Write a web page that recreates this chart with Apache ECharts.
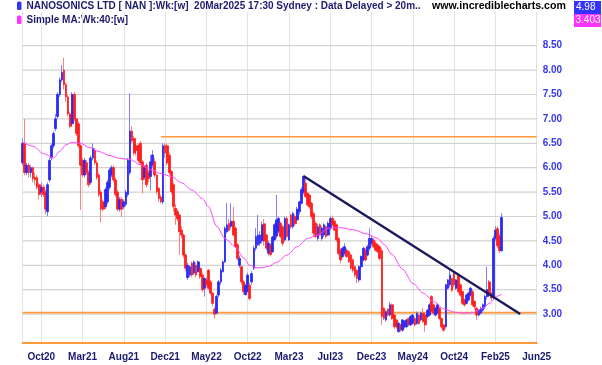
<!DOCTYPE html>
<html><head><meta charset="utf-8">
<script src="https://cdn.jsdelivr.net/npm/echarts@6/dist/echarts.min.js"></script>
<style>html,body{margin:0;padding:0;background:#fff}#c{width:602px;height:365px}</style>
</head><body><div id="c"></div>
<script>
// ---------- data ----------
const tickLabels = ['Oct20','Mar21','Aug21','Dec21','May22','Oct22','Mar23','Jul23','Dec23','May24','Oct24','Feb25','Jun25'];
const firstTickIndex = 9;
const tickStep = 20;
const weekCount = 250;
const weeks = Array.from({length: weekCount}, (_, i) => 'W' + i);

// weekly bars: [open, close, low, high]
const ohlc = [
[6.1,6.5,6.05,6.6],[6.5,5.9,5.85,7.0],[5.9,6.05,5.85,6.1],[6.05,5.9,5.8,6.1],[5.9,6.0,5.8,6.05],
[6.0,5.78,5.7,6.02],[5.8,5.75,5.65,5.9],[5.8,5.6,5.55,5.85],[5.65,5.45,5.35,5.7],[5.5,5.6,5.4,5.7],
[5.6,5.45,5.4,5.65],[5.5,5.15,5.05,5.55],[5.1,5.65,5.0,5.7],[5.75,6.15,5.7,6.2],[6.2,6.45,6.15,6.5],
[6.45,6.7,6.4,6.75],[6.8,7.0,6.75,7.1],[7.05,7.5,7.0,7.55],[7.5,7.8,7.45,7.85],[7.8,7.95,7.75,8.1],
[8.0,7.7,7.6,8.25],[7.7,7.45,7.35,7.75],[7.45,7.1,7.05,7.5],[7.1,6.85,6.8,7.15],[6.9,7.5,6.85,7.55],
[7.5,7.0,6.95,7.55],[7.0,6.7,6.65,7.0],[6.9,6.45,6.4,6.95],[6.45,6.05,5.13,6.5],[6.15,5.85,5.8,6.2],
[5.85,6.15,5.8,6.2],[6.1,5.9,5.85,6.15],[5.9,5.65,5.6,5.95],[5.7,6.2,5.65,6.25],[6.2,6.4,6.15,6.5],
[6.35,6.1,6.05,6.4],[6.1,5.8,5.75,6.15],[5.85,5.45,5.4,5.9],[5.5,5.15,4.88,5.55],[5.3,5.15,5.1,5.35],
[5.2,5.55,5.15,5.6],[5.3,5.7,5.25,5.75],[5.6,5.95,5.55,6.0],[5.85,6.0,5.8,6.05],[6.0,5.75,5.7,6.05],
[5.75,5.45,5.4,5.8],[5.5,5.15,5.1,5.55],[5.15,5.35,5.1,5.4],[5.35,5.15,4.99,5.4],[5.2,5.3,5.15,5.35],
[5.25,5.5,5.2,5.55],[5.45,6.15,5.4,6.2],[5.9,6.75,5.85,7.52],[6.75,6.55,6.5,6.85],[6.6,6.3,6.25,6.65],
[6.45,6.35,6.25,6.5],[6.45,6.15,6.1,6.5],[6.5,6.1,6.05,6.55],[6.12,5.75,5.47,6.15],[5.8,6.0,5.75,6.05],
[6.05,5.65,5.6,6.1],[5.9,5.78,5.7,5.95],[5.82,6.12,5.54,6.26],[6.06,6.26,6.0,6.36],[6.12,5.85,5.8,6.2],
[5.85,5.51,5.45,5.88],[5.58,5.37,5.3,5.6],[5.4,5.3,5.27,5.45],[5.3,6.45,5.25,6.5],[6.45,6.3,6.2,6.5],
[6.45,6.1,6.05,6.5],[6.25,5.9,5.85,6.3],[5.92,5.51,5.45,5.95],[5.65,5.2,5.1,5.7],[5.17,5.03,4.83,5.25],
[5.1,4.95,4.9,5.15],[5.03,4.69,4.21,5.05],[4.72,4.62,4.55,4.8],[4.62,4.21,4.15,4.65],[4.21,3.94,3.88,4.25],
[3.75,4.0,3.7,4.05],[3.8,3.97,3.75,4.0],[4.04,3.8,3.75,4.08],[3.84,4.07,3.8,4.1],[4.0,3.8,3.75,4.05],
[3.87,4.07,3.85,4.1],[3.94,3.77,3.72,4.0],[3.8,3.5,3.45,3.85],[3.53,3.73,3.36,3.75],[3.7,3.6,3.55,3.75],
[3.9,3.53,3.5,3.92],[3.66,3.43,3.4,3.7],[3.43,3.22,3.15,3.45],[3.1,3.0,2.9,3.15],[3.02,3.36,3.0,3.4],
[3.39,3.66,3.35,3.7],[3.66,3.9,3.6,3.95],[3.87,4.07,3.85,4.1],[4.07,4.76,4.05,4.8],[4.69,4.83,4.65,5.27],
[4.86,4.72,4.69,4.95],[4.8,4.9,4.75,5.27],[4.9,4.62,4.6,5.2],[4.76,4.38,4.35,4.8],[4.42,4.14,4.1,4.45],
[4.0,4.14,3.95,4.2],[3.97,3.66,3.6,4.0],[3.66,3.46,3.4,3.7],[3.4,3.59,3.38,3.62],[3.46,3.8,3.45,3.85],
[3.59,3.32,3.28,3.65],[3.66,3.83,3.6,3.88],[3.94,4.35,3.9,4.4],[4.35,4.59,4.3,4.76],[4.42,4.62,4.4,5.03],
[4.45,4.62,4.4,4.7],[4.5,4.83,4.45,4.9],[4.85,4.5,4.4,4.95],[4.62,4.35,4.3,4.65],[4.25,4.45,4.2,4.5],
[4.42,4.22,4.18,4.45],[4.28,4.58,4.25,4.6],[4.52,4.83,4.5,4.86],[4.6,4.93,4.55,5.44],[4.7,4.96,4.65,5.0],
[4.86,4.59,4.55,4.9],[4.79,4.45,4.4,4.82],[4.52,4.96,4.48,5.0],[4.96,4.59,4.55,5.0],[4.52,4.83,4.5,4.86],
[5.03,4.79,4.75,5.06],[4.79,5.06,4.75,5.1],[5.0,4.85,4.8,5.05],[4.93,5.15,4.9,5.2],[5.1,5.3,5.05,5.32],
[5.27,5.55,5.25,5.6],[5.5,5.82,5.45,5.84],[5.68,5.41,5.38,5.8],[5.48,5.24,5.2,5.5],[5.44,5.2,5.15,5.46],
[5.27,5.0,4.95,5.3],[5.06,4.66,4.6,5.1],[4.86,4.59,4.55,4.9],[4.55,4.79,4.5,4.85],[4.83,4.62,4.6,4.86],
[4.55,4.76,4.5,4.8],[4.62,4.83,4.58,4.86],[4.79,4.59,4.55,4.82],[4.62,4.86,4.6,4.9],[4.76,4.96,4.72,5.0],
[4.96,4.83,4.8,5.02],[4.9,4.72,4.7,4.93],[4.83,4.52,4.48,4.86],[4.55,4.24,4.2,4.58],[4.31,4.11,4.04,4.35],
[4.18,4.35,4.15,4.38],[4.25,4.38,4.2,4.45],[4.31,4.18,4.15,4.35],[4.28,4.07,4.05,4.3],[4.21,3.94,3.9,4.25],
[4.11,3.9,3.85,4.15],[3.97,3.8,3.75,4.0],[3.9,3.73,3.63,3.92],[3.7,3.97,3.65,4.0],[3.97,4.18,3.95,4.2],
[4.11,4.35,4.08,4.38],[4.31,4.11,4.08,4.35],[4.21,4.38,4.18,4.42],[4.35,4.55,4.3,4.76],[4.45,4.55,4.4,4.6],
[4.52,4.38,4.35,4.55],[4.45,4.31,4.28,4.5],[4.42,4.28,4.25,4.45],[4.38,4.14,4.1,4.4],[4.3,2.95,2.78,4.35],
[3.12,2.91,2.88,3.15],[2.88,3.05,2.85,3.08],[3.1,2.98,2.95,3.12],[2.98,3.19,2.95,3.26],[3.19,2.91,2.88,3.22],
[2.98,2.74,2.7,3.0],[2.88,2.74,2.7,2.9],[2.64,2.81,2.62,2.85],[2.78,2.68,2.64,2.8],[2.67,2.88,2.64,2.9],
[2.74,2.85,2.7,2.88],[2.74,2.88,2.72,2.9],[2.91,2.78,2.75,2.93],[2.78,2.95,2.75,2.98],[2.81,2.98,2.78,3.0],
[2.91,2.78,2.75,2.95],[2.81,3.02,2.78,3.05],[2.98,2.81,2.78,3.0],[2.88,3.02,2.85,3.05],[3.02,2.85,2.82,3.12],
[2.98,2.78,2.64,3.0],[2.95,3.08,2.92,3.1],[2.98,3.19,2.95,3.22],[3.36,3.05,3.0,3.39],[3.19,3.02,2.98,3.22],
[2.98,3.12,2.95,3.15],[3.02,3.19,3.0,3.22],[3.12,2.91,2.88,3.15],[2.91,2.74,2.7,2.93],[2.78,2.67,2.64,2.8],
[2.74,3.6,2.7,3.62],[3.53,3.7,3.5,3.72],[3.6,3.8,3.55,3.9],[3.73,3.49,3.45,3.75],[3.83,3.6,3.55,3.86],
[3.53,3.7,3.5,3.72],[3.8,3.46,3.42,3.83],[3.6,3.39,3.35,3.62],[3.46,3.22,3.18,3.48],[3.29,3.19,3.15,3.32],
[3.22,3.39,3.2,3.42],[3.29,3.43,3.26,3.46],[3.39,3.53,3.36,3.56],[3.46,3.19,3.15,3.5],[3.26,3.15,3.1,3.28],
[3.12,2.98,2.88,3.15],[2.98,3.08,2.95,3.1],[3.02,3.12,3.0,3.15],[3.08,3.19,3.05,3.22],[3.15,3.36,3.1,3.4],
[3.36,3.5,3.3,3.97],[3.66,3.43,3.38,3.7],[3.43,3.33,3.28,3.45],[3.35,4.55,3.3,4.6],[4.55,4.72,4.5,4.8],
[4.75,4.4,4.35,4.8],[4.6,4.3,4.25,4.65],[4.3,4.98,4.28,5.07]
];

// 40-week simple moving average, read at [week index, value]
const maPoints = [
[0,6.52],[5,6.44],[10,6.29],[15,6.2],[18,6.34],[21,6.47],[24,6.52],[28,6.5],[32,6.42],[37,6.33],
[42,6.25],[47,6.19],[52,6.17],[57,6.06],[62,5.96],[67,5.88],[72,5.82],[77,5.69],[82,5.54],[87,5.37],
[90,5.2],[94,4.8],[98,4.55],[103,4.38],[107,4.15],[110,4.0],[113,3.95],[116,3.95],[119,3.98],[123,4.06],
[128,4.21],[133,4.38],[138,4.55],[143,4.62],[148,4.76],[154,4.77],[160,4.73],[167,4.64],[172,4.55],[175,4.43],
[179,4.22],[184,3.92],[189,3.63],[194,3.43],[199,3.26],[204,3.11],[209,3.04],[214,3.02],[218,3.03],[223,3.12],
[226,3.22],[230,3.37],[232,3.403]
];

const trendLine = [[136, 5.83], [241, 3.0]];
const resistanceLine = [[67, 6.635], [249, 6.635]];
const supportLine = [[0, 3.03], [249, 3.03]];
const priceTicks = [3.0, 3.5, 4.0, 4.5, 5.0, 5.5, 6.0, 6.5, 7.0, 7.5, 8.0, 8.5];
const lastClose = '4.98';
const lastMA = '3.403';
const titleText = 'NANOSONICS LTD [ NAN ]:Wk:[w]  20Mar2025 17:30 Sydney : Data Delayed > 20m..';
const maText = 'Simple MA:Wk:40:[w]';
const siteText = 'www.incrediblecharts.com';

// ---------- chart ----------
const UP = '#2a2af5', DOWN = '#ff1f1f', UP_W = '#7f7fff', DOWN_W = '#ff8080';
const isTick = i => i >= firstTickIndex && (i - firstTickIndex) % tickStep === 0;
const bodies = ohlc.map(([o, c]) => [o, c, Math.min(o, c), Math.max(o, c)]);
const gridRows = priceTicks.flatMap(v => [[0, v], [weekCount - 1, v], [weekCount - 1, '-']]);
const FONT = 'Liberation Sans, Arial, sans-serif';

const chart = echarts.init(document.getElementById('c'), null, {renderer: 'canvas'});
chart.setOption({
  animation: false,
  backgroundColor: '#ffffff',
  grid: {left: 22.7, right: 65.3, top: 12, bottom: 22, containLabel: false},
  xAxis: {
    type: 'category', data: weeks, boundaryGap: false,
    axisLine: {show: true, lineStyle: {color: '#ff9a3c', width: 2}},
    axisTick: {show: false},
    axisLabel: {
      interval: (i) => isTick(i),
      formatter: (v, i) => tickLabels[(i - firstTickIndex) / tickStep] || '',
      color: '#1b1b6e', fontWeight: 'bold', fontSize: 10, fontFamily: FONT, margin: 9
    },
    splitLine: {show: true, interval: (i) => i === 0 || isTick(i), lineStyle: {color: '#e2e2e2', width: 1}}
  },
  yAxis: {
    type: 'value', position: 'right', min: 2.408, max: 9.19, scale: true,
    axisLine: {show: false}, axisTick: {show: false},
    splitLine: {show: false},
    axisLabel: {
      customValues: priceTicks,
      formatter: v => (v >= 2.99 && v <= 8.51) ? v.toFixed(2) : '',
      color: '#3636ee', fontWeight: 'bold', fontSize: 10, fontFamily: FONT, margin: 6
    }
  },
  graphic: [
    {type: 'rect', shape: {x: 17, y: 1.5, width: 4.5, height: 8.5, r: 1.5}, style: {fill: '#3333ff'}},
    {type: 'text', x: 26.5, y: 6.5, style: {text: titleText, font: 'bold 10px ' + FONT, fill: '#1b1b6e', verticalAlign: 'middle', textVerticalAlign: 'middle'}},
    {type: 'rect', shape: {x: 17, y: 15.5, width: 4.5, height: 8.5, r: 1.5}, style: {fill: '#ff33ff'}},
    {type: 'text', x: 26.5, y: 20.5, style: {text: maText, font: 'bold 10px ' + FONT, fill: '#1b1b6e', verticalAlign: 'middle', textVerticalAlign: 'middle'}},
    {type: 'text', x: 432, y: 6.5, style: {text: siteText, font: 'bold 10.6px ' + FONT, fill: '#000000', verticalAlign: 'middle', textVerticalAlign: 'middle'}},
    {type: 'rect', shape: {x: 574, y: 1, width: 27, height: 13}, style: {fill: '#3333ff'}},
    {type: 'text', x: 576, y: 7.5, style: {text: lastClose, font: '10px ' + FONT, fill: '#ffffff', verticalAlign: 'middle', textVerticalAlign: 'middle'}},
    {type: 'rect', shape: {x: 574, y: 14, width: 27, height: 13}, style: {fill: '#ff33ff'}},
    {type: 'text', x: 575.5, y: 20.5, style: {text: lastMA, font: '10px ' + FONT, fill: '#ffffff', verticalAlign: 'middle', textVerticalAlign: 'middle'}}
  ],
  series: [
    {name: 'gridRows', type: 'line', data: gridRows, symbol: 'none', z: 0, silent: true,
      connectNulls: false, lineStyle: {color: '#d2d2d2', width: 1.2}},
    {name: 'support', type: 'line', data: supportLine, symbol: 'none', z: 1,
      lineStyle: {color: '#ff9a3c', width: 1.6}},
    {name: 'resistance', type: 'line', data: resistanceLine, symbol: 'none', z: 1,
      lineStyle: {color: '#ff9a3c', width: 1.6}},
    {name: 'wicks', type: 'candlestick', data: ohlc, barWidth: 1, clip: false, z: 2,
      itemStyle: {color: UP_W, color0: DOWN_W, borderColor: UP_W, borderColor0: DOWN_W, borderWidth: 1}},
    {name: 'bodies', type: 'candlestick', data: bodies, barWidth: 2.2, clip: false, z: 3,
      itemStyle: {color: UP, color0: DOWN, borderColor: UP, borderColor0: DOWN, borderWidth: 0.8}},
    {name: 'MA40', type: 'line', data: maPoints, smooth: 0.3, smoothMonotone: 'x', symbol: 'none', z: 4,
      lineStyle: {color: '#ff44ff', width: 1}},
    {name: 'trend', type: 'line', z: 5, symbol: 'none',
      data: [{value: trendLine[0]}, {value: trendLine[1], symbol: 'circle', symbolSize: 5}],
      itemStyle: {color: '#1a1a5c'}, showSymbol: true,
      lineStyle: {color: '#1a1a5c', width: 2.4}}
  ]
});
</script>
</body></html>
